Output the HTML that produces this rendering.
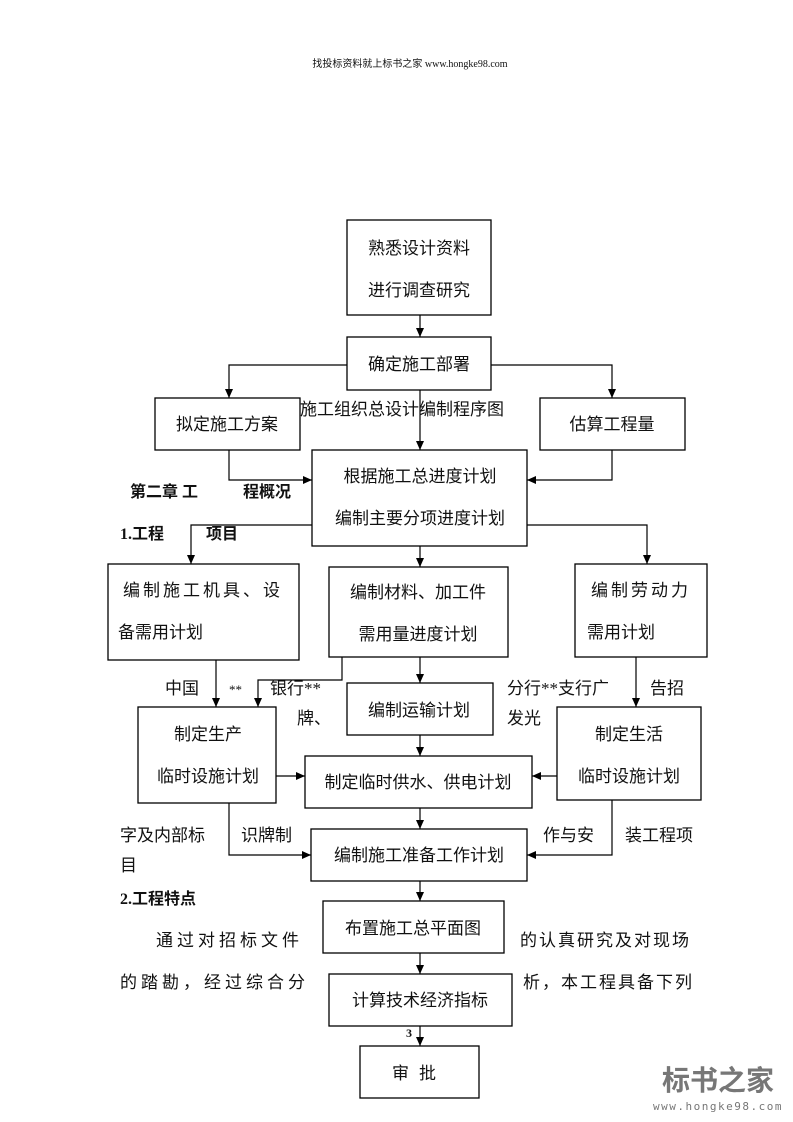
<!DOCTYPE html>
<html><head><meta charset="utf-8"><style>
html,body{margin:0;padding:0;background:#fff;width:793px;height:1122px;overflow:hidden}
svg text{font-family:"Liberation Serif","Noto Sans CJK SC",sans-serif;fill:#111}
</style></head><body>
<svg width="793" height="1122" viewBox="0 0 793 1122" xmlns="http://www.w3.org/2000/svg">
<defs><marker id="a" markerWidth="10" markerHeight="10" refX="9" refY="5" orient="auto" markerUnits="userSpaceOnUse"><path d="M0,1 L9,5 L0,9 z" fill="#000"/></marker></defs>
<text x="410" y="67" font-size="10" text-anchor="middle" font-family="Liberation Serif,Noto Serif CJK SC,serif">找投标资料就上标书之家 www.hongke98.com</text>
<g fill="none" stroke="#000" stroke-width="1.3">
<rect x="347" y="220" width="144" height="95"/>
<rect x="347" y="337" width="144" height="53"/>
<rect x="155" y="398" width="145" height="52"/>
<rect x="540" y="398" width="145" height="52"/>
<rect x="312" y="450" width="215" height="96"/>
<rect x="108" y="564" width="191" height="96"/>
<rect x="329" y="567" width="179" height="90"/>
<rect x="575" y="564" width="132" height="93"/>
<rect x="347" y="683" width="146" height="52"/>
<rect x="138" y="707" width="138" height="96"/>
<rect x="557" y="707" width="144" height="93"/>
<rect x="305" y="756" width="227" height="52"/>
<rect x="311" y="829" width="216" height="52"/>
<rect x="323" y="901" width="181" height="52"/>
<rect x="329" y="974" width="183" height="52"/>
<rect x="360" y="1046" width="119" height="52"/>
</g>
<g fill="none" stroke="#000" stroke-width="1.2" marker-end="url(#a)">
<path d="M420 315 V337"/>
<path d="M420 390 V450"/>
<path d="M347 365 H229 V398"/>
<path d="M491 365 H612 V398"/>
<path d="M229 450 V480 H312"/>
<path d="M612 450 V480 H527"/>
<path d="M312 525 H191 V564"/>
<path d="M527 525 H647 V564"/>
<path d="M420 546 V567"/>
<path d="M216 660 V707"/>
<path d="M342 657 V680 H258 V707"/>
<path d="M420 657 V683"/>
<path d="M636 657 V707"/>
<path d="M420 735 V756"/>
<path d="M276 776 H305"/>
<path d="M557 776 H532"/>
<path d="M420 808 V829"/>
<path d="M229 803 V855 H311"/>
<path d="M612 800 V855 H527"/>
<path d="M420 881 V901"/>
<path d="M420 953 V974"/>
<path d="M420 1026 V1046"/>
</g>
<g font-size="17" text-anchor="middle">
<text x="419" y="254">熟悉设计资料</text>
<text x="419" y="296">进行调查研究</text>
<text x="419" y="370">确定施工部署</text>
<text x="227" y="430">拟定施工方案</text>
<text x="612" y="430">估算工程量</text>
<text x="420" y="482">根据施工总进度计划</text>
<text x="420" y="524">编制主要分项进度计划</text>
<text x="203" y="596" letter-spacing="3">编制施工机具、设</text>
<text x="418" y="598">编制材料、加工件</text>
<text x="418" y="640">需用量进度计划</text>
<text x="641" y="596" letter-spacing="3">编制劳动力</text>
<text x="419" y="716">编制运输计划</text>
<text x="208" y="740">制定生产</text>
<text x="208" y="782">临时设施计划</text>
<text x="629" y="740">制定生活</text>
<text x="629" y="782">临时设施计划</text>
<text x="418" y="788">制定临时供水、供电计划</text>
<text x="419" y="861">编制施工准备工作计划</text>
<text x="413" y="934">布置施工总平面图</text>
<text x="420" y="1006">计算技术经济指标</text>
<text x="419" y="1079" letter-spacing="10">审批</text>
</g>
<g font-size="17">
<text x="118" y="638">备需用计划</text>
<text x="587" y="638">需用计划</text>
<text x="300" y="415">施工组织总设计编制程序图</text>
<text x="165" y="694">中国</text>
<text x="229" y="694" font-size="13">**</text>
<text x="270" y="694">银行**</text>
<text x="297" y="724">牌、</text>
<text x="507" y="694">分行**支行广</text>
<text x="507" y="724">发光</text>
<text x="650" y="694">告招</text>
<text x="120" y="841">字及内部标</text>
<text x="120" y="871">目</text>
<text x="241" y="841">识牌制</text>
<text x="543" y="841">作与安</text>
<text x="625" y="841">装工程项</text>
<text x="156" y="946" letter-spacing="4">通过对招标文件</text>
<text x="120" y="988" letter-spacing="4">的踏勘，经过综合分</text>
<text x="520" y="946" letter-spacing="2">的认真研究及对现场</text>
<text x="523" y="988" letter-spacing="2">析，本工程具备下列</text>
</g>
<g font-size="16" font-weight="bold">
<text x="130" y="497">第二章 工</text>
<text x="243" y="497">程概况</text>
<text x="120" y="539">1.工程</text>
<text x="206" y="539">项目</text>
<text x="120" y="904">2.工程特点</text>
<text x="406" y="1037" font-size="12">3</text>
</g>
<text x="718" y="1090" font-size="28" font-weight="bold" text-anchor="middle" style="fill:#777">标书之家</text>
<text x="718" y="1110" font-size="11" text-anchor="middle" letter-spacing="1.5" style="fill:#777;font-family:'DejaVu Sans Mono',monospace">www.hongke98.com</text>
</svg>
</body></html>
